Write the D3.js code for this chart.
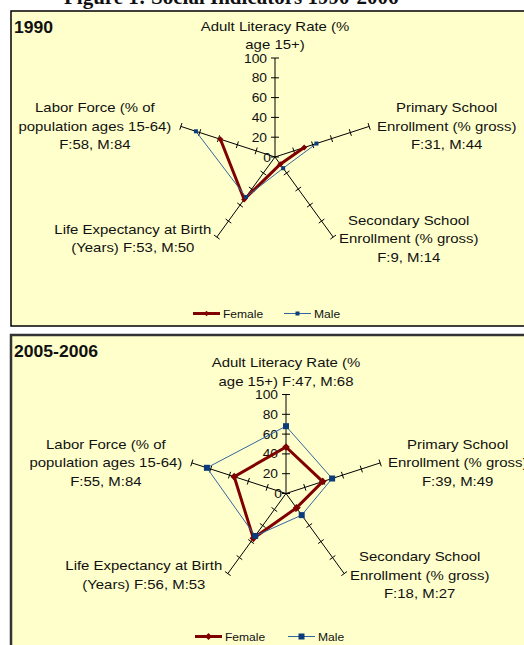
<!DOCTYPE html>
<html>
<head>
<meta charset="utf-8">
<script src="https://cdn.jsdelivr.net/npm/d3@7"></script>
<style>
  body { margin: 0; background: #fff; }
  svg { display: block; }
  text { font-family: "Liberation Sans", Arial, sans-serif; fill: #111; }
</style>
</head>
<body>
<svg id="chart"></svg>
<script>
const width = 524;
const height = 645;

// data
const axisNames = ['Adult Literacy Rate', 'Primary School Enrollment', 'Secondary School Enrollment',
    'Life Expectancy at Birth', 'Labor Force'];
const tickValues = [0, 20, 40, 60, 80, 100];
const female1990 = [null, 31, 9, 53, 58];
const male1990 = [null, 44, 14, 50, 84];
const female2005 = [47, 39, 18, 56, 55];
const male2005 = [68, 49, 27, 53, 84];
const labels1990 = [
    ['Adult Literacy Rate (%', 'age 15+)'],
    ['Primary School', 'Enrollment (% gross)', 'F:31, M:44'],
    ['Secondary School', 'Enrollment (% gross)', 'F:9, M:14'],
    ['Life Expectancy at Birth', '(Years) F:53, M:50'],
    ['Labor Force (% of', 'population ages 15-64)', 'F:58, M:84']
];
const labels2005 = [
    ['Adult Literacy Rate (%', 'age 15+) F:47, M:68'],
    ['Primary School', 'Enrollment (% gross)', 'F:39, M:49'],
    ['Secondary School', 'Enrollment (% gross)', 'F:18, M:27'],
    ['Life Expectancy at Birth', '(Years) F:56, M:53'],
    ['Labor Force (% of', 'population ages 15-64)', 'F:55, M:84']
];
const seriesNames = ['Female', 'Male'];

const femaleColor = '#800000';
const maleLine = '#3366a0';
const maleMark = '#0b3b78';
const sx = 1.15;   // the source chart is stretched sideways
const R = 99;

// offset of the first label line from the axis end
const labelOffsets = [[0, -32], [77.5, -18.5], [75.5, -17], [-84, -8], [-86, -18.5]];

const svg = d3.select('#chart').attr('width', width).attr('height', height);

function addText(g, x, y, str, size, anchor, weight, scale) {
    return g.append('text')
        .attr('transform', `translate(${x},${y}) scale(${scale || sx},1)`)
        .attr('text-anchor', anchor || 'middle')
        .style('font-size', size + 'px')
        .style('font-weight', weight || 'normal')
        .text(str);
}

svg.append('text')
    .attr('x', 64).attr('y', 4)
    .style('font-family', '"Liberation Serif", "Times New Roman", serif')
    .style('font-weight', 'bold')
    .style('font-size', '21px')
    .text('Figure 1: Social Indicators 1990-2006');

const panels = [
    {title: '1990', y: 11, h: 315, cx: 275, cy: 157, female: female1990, male: male1990,
        labels: labels1990, legendY: 313.5, legendX: [193, 284], mark: 2.2, sq: 2, border: '#000', bw: 1.5},
    {title: '2005-2006', y: 335, h: 330, cx: 286, cy: 493.5, female: female2005, male: male2005,
        labels: labels2005, legendY: 636.5, legendX: [195, 288], mark: 3, sq: 3, border: '#333', bw: 2.5}
];

const r = d3.scaleLinear().domain([0, 100]).range([0, R]);
const angle = i => i * 2 * Math.PI / axisNames.length;

function diamond(s) {
    return `M0,${-s}L${s},0L0,${s}L${-s},0Z`;
}

panels.forEach(p => {
    const g = svg.append('g');
    g.append('rect')
        .attr('x', 11).attr('y', p.y)
        .attr('width', 540).attr('height', p.h)
        .attr('fill', '#ffffcc')
        .attr('stroke', p.border)
        .attr('stroke-width', p.bw);

    addText(g, 14, p.y + 22, p.title, 16, 'start', 'bold', 1.1);

    const c = g.append('g').attr('transform', `translate(${p.cx},${p.cy})`);

    // spokes with cross ticks
    axisNames.forEach((name, i) => {
        const a = angle(i);
        const ux = Math.sin(a), uy = -Math.cos(a);
        c.append('line')
            .attr('x1', 0).attr('y1', 0)
            .attr('x2', ux * r(100)).attr('y2', uy * r(100))
            .attr('stroke', '#000').attr('stroke-width', 1);
        const tk = i === 0 ? tickValues : tickValues.slice(1);
        tk.forEach(t => {
            const px = ux * r(t), py = uy * r(t);
            const len = i === 0 ? 4 : 3.5;
            c.append('line')
                .attr('x1', px - uy * len).attr('y1', py + ux * len)
                .attr('x2', px + uy * len).attr('y2', py - ux * len)
                .attr('stroke', '#000').attr('stroke-width', 1);
        });

        const off = labelOffsets[i];
        p.labels[i].forEach((line, k) => {
            addText(c, ux * r(100) + off[0], uy * r(100) + off[1] + k * 18.5 + 4.5, line, 13);
        });
    });

    tickValues.forEach(t => {
        addText(c, t === 0 ? -4 : -8, -r(t) + 4.5, t, 12, 'end');
    });

    const line = d3.lineRadial()
        .angle((d, i) => angle(i))
        .radius(d => r(d))
        .defined(d => d != null);

    const closed = v => v[0] == null ? v : v.concat([v[0]]);

    c.append('path')
        .attr('d', line(closed(p.female)))
        .attr('fill', 'none')
        .attr('stroke', femaleColor)
        .attr('stroke-width', 3)
        .attr('stroke-linejoin', 'miter');

    c.selectAll('.fm').data(p.female.map((v, i) => ({v, i})).filter(d => d.v != null))
        .enter().append('path')
        .attr('class', 'fm')
        .attr('transform', d => `translate(${Math.sin(angle(d.i)) * r(d.v)},${-Math.cos(angle(d.i)) * r(d.v)})`)
        .attr('d', diamond(p.mark + 0.8))
        .attr('fill', femaleColor);

    c.append('path')
        .attr('d', line(closed(p.male)))
        .attr('fill', 'none')
        .attr('stroke', maleLine)
        .attr('stroke-width', 1);

    c.selectAll('.mm').data(p.male.map((v, i) => ({v, i})).filter(d => d.v != null))
        .enter().append('rect')
        .attr('class', 'mm')
        .attr('x', d => Math.sin(angle(d.i)) * r(d.v) - p.sq)
        .attr('y', d => -Math.cos(angle(d.i)) * r(d.v) - p.sq)
        .attr('width', p.sq * 2).attr('height', p.sq * 2)
        .attr('fill', maleMark);

    // legend
    seriesNames.forEach((name, k) => {
        const x0 = p.legendX[k];
        const isF = k === 0;
        g.append('line')
            .attr('x1', x0).attr('x2', x0 + 27)
            .attr('y1', p.legendY).attr('y2', p.legendY)
            .attr('stroke', isF ? femaleColor : maleLine)
            .attr('stroke-width', isF ? 3 : 1);
        if (isF) {
            g.append('path')
                .attr('transform', `translate(${x0 + 13.5},${p.legendY})`)
                .attr('d', diamond(p.mark + 0.5))
                .attr('fill', femaleColor);
        } else {
            g.append('rect')
                .attr('x', x0 + 13.5 - p.sq).attr('y', p.legendY - p.sq)
                .attr('width', p.sq * 2).attr('height', p.sq * 2)
                .attr('fill', maleMark);
        }
        addText(g, x0 + 30, p.legendY + 4, name, 10.5, 'start');
    });
});
</script>
</body>
</html>
